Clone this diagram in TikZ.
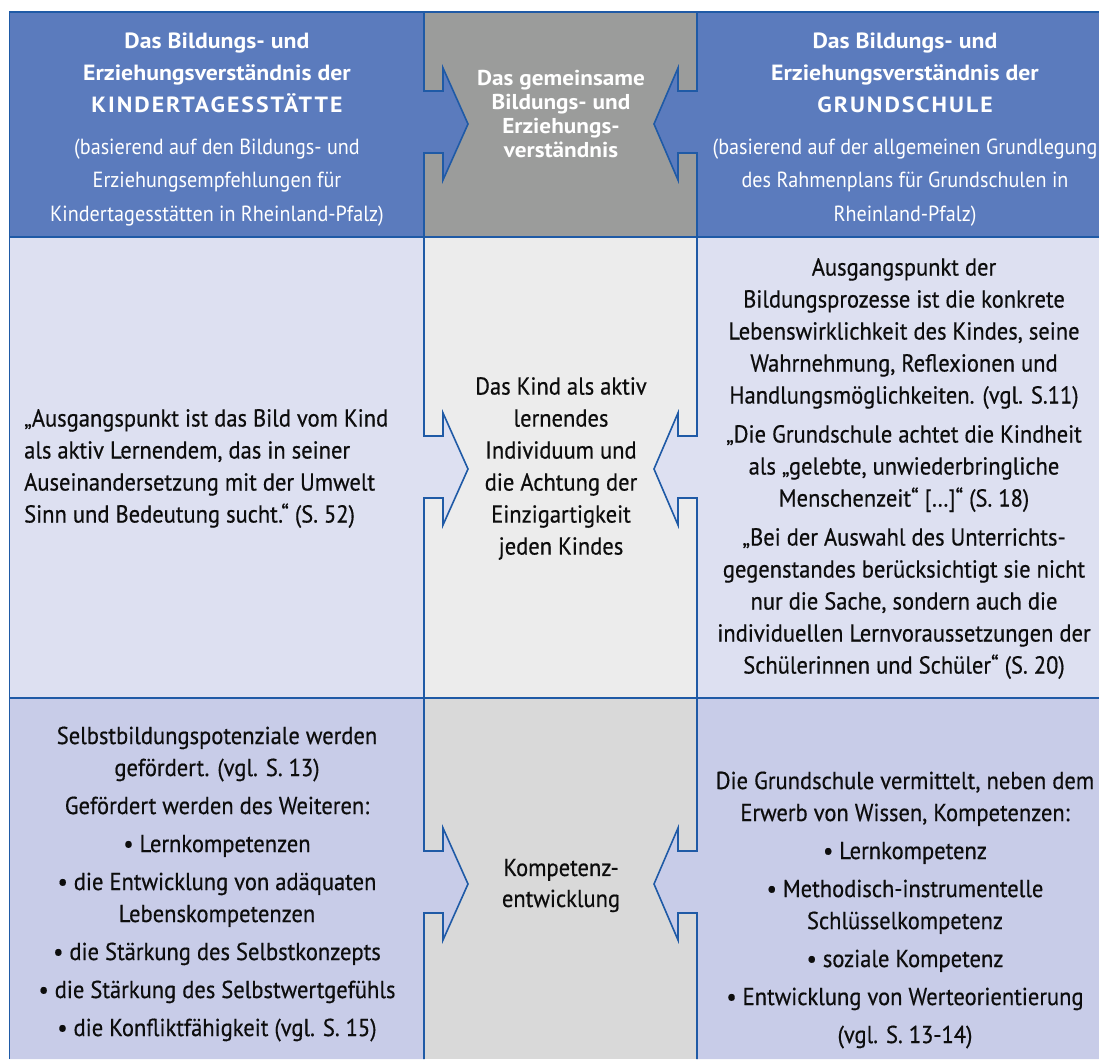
\documentclass[tikz,border=0pt]{standalone}
\usepackage{fontspec}
\setmainfont{PT Sans}[FakeStretch=0.92]
\newfontfamily\bodyfont{PT Sans}[FakeStretch=0.92, FakeBold=0.5]
\newfontfamily\titlefont{PT Sans}[FakeStretch=1.08]
\definecolor{hdrblue}{HTML}{5B7BBD}
\definecolor{hdrgray}{HTML}{9B9C9B}
\definecolor{midside}{HTML}{DDE0F1}
\definecolor{midcenter}{HTML}{ECECEC}
\definecolor{botside}{HTML}{C8CCE8}
\definecolor{botcenter}{HTML}{D9D9D9}
\definecolor{rule}{HTML}{1F5AA6}
\definecolor{ink}{HTML}{0D0D0D}
\begin{document}
\begin{tikzpicture}[x=1pt,y=-1pt,
  larr/.style={insert path={-- (424,#1-33) -- (443,#1-33) -- (443,#1-56) -- (468,#1) -- (443,#1+56) -- (443,#1+29) -- (424,#1+29)}},
  rarr/.style={insert path={-- (697,#1-33) -- (678,#1-33) -- (678,#1-56) -- (654,#1) -- (678,#1+56) -- (678,#1+29) -- (697,#1+29)}},
  rulestyle/.style={draw=rule, line width=1.6pt, line join=miter},
  htitle/.style={font=\titlefont\bfseries\fontsize{22}{32}\selectfont, text=white, inner sep=0pt, align=center},
  hsub/.style={font=\fontsize{21.9}{33.5}\selectfont, text=white, inner sep=0pt, align=center},
  body/.style={font=\bodyfont\fontsize{24.5}{32}\selectfont, text=ink, inner sep=0pt, align=center}]
\useasboundingbox (0,0) rectangle (1099,1059);
% center column fills
\fill[hdrgray] (424,12) rectangle (697,237);
\fill[midcenter] (424,237) rectangle (697,698);
\fill[botcenter] (424,698) rectangle (697,1059);
% left side fills (with arrows)
\fill[hdrblue] (9.5,12) -- (424,12) [larr=124] -- (424,237) -- (9.5,237) -- cycle;
\fill[midside] (9.5,237) -- (424,237) [larr=469] -- (424,698) -- (9.5,698) -- cycle;
\fill[botside] (9.5,698) -- (424,698) [larr=884] -- (424,1059) -- (9.5,1059) -- cycle;
% right side fills (with arrows)
\fill[hdrblue] (1099,12) -- (697,12) [rarr=124] -- (697,237) -- (1099,237) -- cycle;
\fill[midside] (1099,237) -- (697,237) [rarr=469] -- (697,698) -- (1099,698) -- cycle;
\fill[botside] (1099,698) -- (697,698) [rarr=884] -- (697,1059) -- (1099,1059) -- cycle;
% rules
\draw[rulestyle] (9.5,1059) -- (9.5,12) -- (1099,12);
\draw[rulestyle] (9.5,237) -- (1099,237);
\draw[rulestyle] (9.5,698) -- (1099,698);
\draw[rulestyle] (424,12) [larr=124] [larr=469] [larr=884] -- (424,1059);
\draw[rulestyle] (697,12) [rarr=124] [rarr=469] [rarr=884] -- (697,1059);
% header texts
\node[htitle] (hlt) at (217,73) {Das Bildungs- und\\Erziehungsverständnis der\\{\fontsize{22}{32}\selectfont\addfontfeatures{LetterSpace=9}KINDERTAGESSTÄTTE}};
\node[hsub] (hls) at (217,182.5) {(basierend auf den Bildungs- und\\Erziehungsempfehlungen für\\Kindertagesstätten in Rheinland-Pfalz)};
\node[htitle, font=\titlefont\bfseries\fontsize{21.5}{24}\selectfont] (hct) at (561,114) {Das gemeinsame\\Bildungs- und\\Erziehungs-\\verständnis};
\node[htitle] (hrt) at (905,73) {Das Bildungs- und\\Erziehungsverständnis der\\{\fontsize{22}{32}\selectfont\addfontfeatures{LetterSpace=9}GRUNDSCHULE}};
\node[hsub] (hrs) at (905,182.5) {(basierend auf der allgemeinen Grundlegung\\des Rahmenplans für Grundschulen in\\Rheinland-Pfalz)};
% middle row
\node[body, align=left, anchor=west] (ml) at (24,468.5) {„Ausgangspunkt ist das Bild vom Kind\\als aktiv Lernendem, das in seiner\\Auseinandersetzung mit der Umwelt\\Sinn und Bedeutung sucht.“ (S. 52)};
\node[body] (mc) at (561,468.5) {Das Kind als aktiv\\lernendes\\Individuum und\\die Achtung der\\Einzigartigkeit\\jeden Kindes};
\node[body] (mr) at (904,468.5) {Ausgangspunkt der\\Bildungsprozesse ist die konkrete\\Lebenswirklichkeit des Kindes, seine\\Wahrnehmung, Reflexionen und\\Handlungsmöglichkeiten. (vgl. S.11)\\[7pt]„Die Grundschule achtet die Kindheit\\als „gelebte, unwiederbringliche\\Menschenzeit“ […]“ (S. 18)\\[7pt]„Bei der Auswahl des Unterrichts-\\gegenstandes berücksichtigt sie nicht\\nur die Sache, sondern auch die\\individuellen Lernvoraussetzungen der\\Schülerinnen und Schüler“ (S. 20)};
% bottom row
\node[body] (bl) at (217,884) {Selbstbildungspotenziale werden\\gefördert. (vgl. S. 13)\\[6pt]Gefördert werden des Weiteren:\\[6pt]• Lernkompetenzen\\[6pt]• die Entwicklung von adäquaten\\Lebenskompetenzen\\[6pt]• die Stärkung des Selbstkonzepts\\[6pt]• die Stärkung des Selbstwertgefühls\\[6pt]• die Konfliktfähigkeit (vgl. S. 15)};
\node[body, font=\bodyfont\fontsize{24.5}{31}\selectfont] (bc) at (561,885.5) {Kompetenz-\\entwicklung};
\node[body] (br) at (905,910) {Die Grundschule vermittelt, neben dem\\Erwerb von Wissen, Kompetenzen:\\[6pt]• Lernkompetenz\\[6pt]• Methodisch-instrumentelle\\Schlüsselkompetenz\\[6pt]• soziale Kompetenz\\[6pt]• Entwicklung von Werteorientierung\\[6pt](vgl. S. 13-14)};
\end{tikzpicture}
\end{document}
